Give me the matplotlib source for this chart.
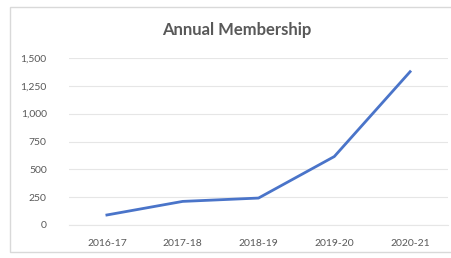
import matplotlib
matplotlib.use("Agg")
import matplotlib.pyplot as plt
from matplotlib.ticker import FuncFormatter
from matplotlib.patches import Rectangle

categories = ["2016-17", "2017-18", "2018-19", "2019-20", "2020-21"]
members = [90, 212, 242, 615, 1377]
yticks = [0, 250, 500, 750, 1000, 1250, 1500]

plt.rcParams['font.family'] = ['Lato', 'DejaVu Sans']

fig = plt.figure(figsize=(4.52, 2.58), dpi=100)
fig.patch.set_facecolor("white")
fig.add_artist(Rectangle((10/452, 1-252/258), 450/452, 245/258, transform=fig.transFigure,
                         facecolor="white", edgecolor="#d9d9d9", linewidth=1, zorder=-5))
ax = fig.add_axes([69/452, 1-225/258, 379/452, 167/258])
ax.set_facecolor("none")
x = range(len(categories))
ax.plot(x, members, color="#4a74c9", linewidth=2.0, solid_joinstyle="round")
ax.set_xlim(-0.5, len(categories) - 0.5)
ax.set_ylim(0, 1500)
ax.set_yticks(yticks)
ax.yaxis.set_major_formatter(FuncFormatter(lambda v, p: f"{int(v):,}"))
ax.set_xticks(list(x))
ax.set_xticklabels(categories)
ax.grid(axis="y", color="#e6e6e6", linewidth=0.8)
ax.set_axisbelow(True)
for s in ["top", "right", "left"]:
    ax.spines[s].set_visible(False)
ax.spines["bottom"].set_color("#e6e6e6")
ax.tick_params(axis="both", length=0, labelsize=7.5, colors="#595959")
ax.tick_params(axis="y", pad=16)
ax.tick_params(axis="x", pad=10)
fig.text(237/452, 1-30/258, "Annual Membership", ha="center", va="center",
         fontsize=12, color="#595959", fontweight="bold")
fig.savefig("out.png", dpi=100)
